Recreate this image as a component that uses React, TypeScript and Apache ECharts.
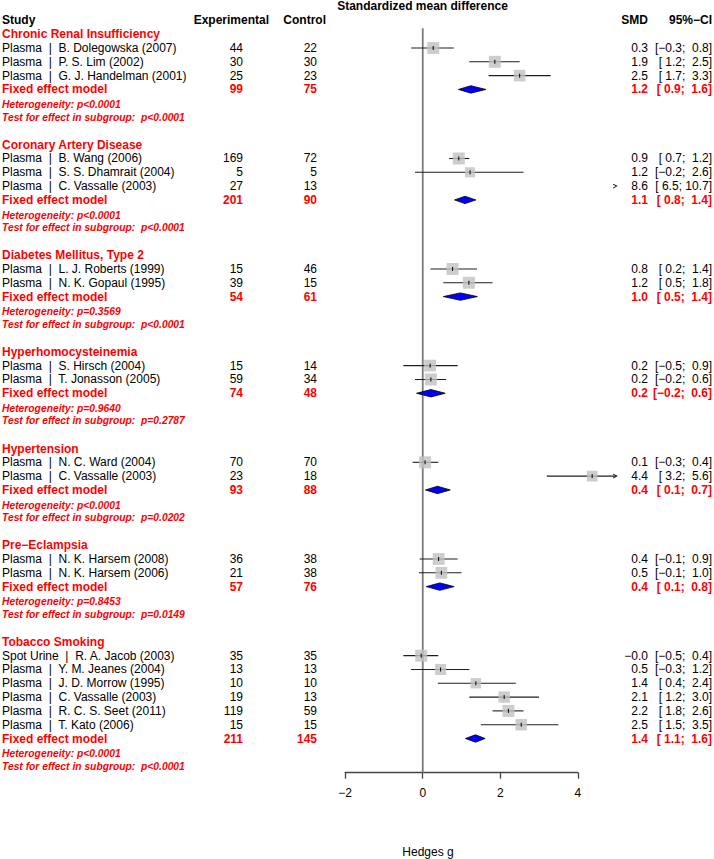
import React, { useEffect, useRef } from "react";
import * as echarts from "echarts";

// ---------------- data ----------------
const groupNames = [
  "Chronic Renal Insufficiency",
  "Coronary Artery Disease",
  "Diabetes Mellitus, Type 2",
  "Hyperhomocysteinemia",
  "Hypertension",
  "Pre\u2212Eclampsia",
  "Tobacco Smoking",
];
const studyGroup = [0, 0, 0, 1, 1, 1, 2, 2, 3, 3, 4, 4, 5, 5, 6, 6, 6, 6, 6, 6];
const studyLabels = [
  "Plasma  |  B. Dolegowska (2007)",
  "Plasma  |  P. S. Lim (2002)",
  "Plasma  |  G. J. Handelman (2001)",
  "Plasma  |  B. Wang (2006)",
  "Plasma  |  S. S. Dhamrait (2004)",
  "Plasma  |  C. Vassalle (2003)",
  "Plasma  |  L. J. Roberts (1999)",
  "Plasma  |  N. K. Gopaul (1995)",
  "Plasma  |  S. Hirsch (2004)",
  "Plasma  |  T. Jonasson (2005)",
  "Plasma  |  N. C. Ward (2004)",
  "Plasma  |  C. Vassalle (2003)",
  "Plasma  |  N. K. Harsem (2008)",
  "Plasma  |  N. K. Harsem (2006)",
  "Spot Urine  |  R. A. Jacob (2003)",
  "Plasma  |  Y. M. Jeanes (2004)",
  "Plasma  |  J. D. Morrow (1995)",
  "Plasma  |  C. Vassalle (2003)",
  "Plasma  |  R. C. S. Seet (2011)",
  "Plasma  |  T. Kato (2006)",
];
const expN = [44, 30, 25, 169, 5, 27, 15, 39, 15, 59, 70, 23, 36, 21, 35, 13, 10, 19, 119, 15];
const ctrlN = [22, 30, 23, 72, 5, 13, 46, 15, 14, 34, 70, 18, 38, 38, 35, 13, 10, 13, 59, 15];
const smd = [0.27, 1.86, 2.5, 0.93, 1.22, 8.6, 0.77, 1.19, 0.19, 0.21, 0.06, 4.37, 0.41, 0.48, -0.04, 0.46, 1.37, 2.1, 2.21, 2.54];
const ciLow = [-0.3, 1.2, 1.7, 0.68, -0.2, 6.5, 0.2, 0.53, -0.5, -0.2, -0.26, 3.2, -0.08, -0.1, -0.5, -0.3, 0.39, 1.2, 1.8, 1.5];
const ciHigh = [0.8, 2.5, 3.3, 1.2, 2.6, 10.7, 1.4, 1.8, 0.9, 0.6, 0.4, 5.6, 0.9, 1.0, 0.4, 1.2, 2.4, 3.0, 2.6, 3.5];
const studyWeight = [1, 1, 0.8, 1, 0, 0.5, 1, 1, 0.9, 1, 1, 0.4, 0.9, 0.9, 1, 0.5, 0.2, 0.7, 1, 0.7];

const pooledExp = [99, 201, 54, 74, 93, 57, 211];
const pooledCtrl = [75, 90, 61, 48, 88, 76, 145];
const pooledSmd = [1.24, 1.09, 0.97, 0.21, 0.38, 0.44, 1.36];
const pooledLow = [0.92, 0.82, 0.53, -0.16, 0.07, 0.09, 1.1];
const pooledHigh = [1.63, 1.37, 1.41, 0.58, 0.71, 0.81, 1.61];
const heterogeneityP = ["p<0.0001", "p<0.0001", "p=0.3569", "p=0.9640", "p<0.0001", "p=0.8453", "p<0.0001"];
const subgroupTestP = ["p<0.0001", "p<0.0001", "p<0.0001", "p=0.2787", "p=0.0202", "p=0.0149", "p<0.0001"];

const axisTicks = [-2, 0, 2, 4];

// ---------------- layout ----------------
const W = 714;
const H = 859;
const FONT = "'Liberation Sans', Arial, Helvetica, sans-serif";
const RED = "#ff0000";
const PLOT_MIN = -2;
const PLOT_MAX = 5;
const ROW_MIN = -1.5;
const ROW_MAX = 54;
const STEP = 13.81;
const ROW0_Y = 34.2;
const GRID_TOP = ROW0_Y + ROW_MIN * STEP;
const GRID_H = (ROW_MAX - ROW_MIN) * STEP;
const X0 = 345.2;
const UNIT = 38.77;
const AXIS_Y = 772.7;

const COL_LABEL = 2;
const COL_EXP = 243;
const COL_CTRL = 317;
const COL_SMD = 648;
const COL_CI = 712;

const fmt = (v: number) => v.toFixed(1).replace("-", "\u2212");
const pad = (s: string) => (s.length < 4 ? " ".repeat(4 - s.length) + s : s);
const ciText = (lo: number, hi: number) => `[${pad(fmt(lo))}; ${pad(fmt(hi))}]`;

// rows
const studyRow: number[] = [];
const groupRow: number[] = [];
const fixedRow: number[] = [];
(() => {
  let r = 0;
  groupNames.forEach((_, gi) => {
    groupRow.push(r);
    r++;
    studyGroup.forEach((g, si) => {
      if (g === gi) {
        studyRow[si] = r;
        r++;
      }
    });
    fixedRow.push(r);
    r += 4;
  });
})();

type TOpts = { color?: string; fontSize?: number; fontWeight?: string; fontStyle?: string };
type TItem = { name: string; value: number[] };
function textSeries(items: TItem[], align: string, o: TOpts = {}) {
  return {
    type: "custom",
    xAxisIndex: 1,
    yAxisIndex: 1,
    silent: true,
    z: 6,
    data: items.map((it) => it.value),
    renderItem: (p: any, api: any) => {
      const c = api.coord([api.value(0), api.value(1)]);
      return {
        type: "text",
        x: c[0],
        y: c[1],
        style: {
          text: items[p.dataIndex].name,
          textAlign: align,
          textVerticalAlign: "middle",
          fill: o.color ?? "#000",
          fontSize: o.fontSize ?? 12,
          fontWeight: o.fontWeight ?? "normal",
          fontStyle: o.fontStyle ?? "normal",
          fontFamily: FONT,
        },
      };
    },
  };
}

export default function App() {
  const ref = useRef<HTMLDivElement>(null);
  useEffect(() => {
    if (!ref.current) return;
    const chart = echarts.init(ref.current, null, { renderer: "svg" });

    const studyCI = studyLabels.map((_, i) => [ciLow[i], ciHigh[i], studyRow[i], smd[i]]);
    const pooledCI = groupNames.map((_, g) => [pooledLow[g], pooledHigh[g], fixedRow[g], pooledSmd[g]]);

    const series: any[] = [
      // zero reference line
      {
        type: "custom",
        xAxisIndex: 0,
        yAxisIndex: 0,
        silent: true,
        z: 1,
        data: [[0, -0.43, 53.48]],
        renderItem: (_p: any, api: any) => {
          const a = api.coord([api.value(0), api.value(1)]);
          const b = api.coord([api.value(0), api.value(2)]);
          return {
            type: "line",
            shape: { x1: a[0], y1: a[1], x2: b[0], y2: b[1] },
            style: { stroke: "#7a7a7a", lineWidth: 1.8 },
          };
        },
      },
      // CI lines
      {
        type: "custom",
        xAxisIndex: 0,
        yAxisIndex: 0,
        silent: true,
        z: 2,
        data: studyCI,
        renderItem: (_p: any, api: any) => {
          const lo = api.value(0);
          const hi = api.value(1);
          const r = api.value(2);
          const y = api.coord([0, r])[1];
          const xl = api.coord([Math.max(lo, PLOT_MIN), r])[0];
          const xr = api.coord([Math.min(hi, PLOT_MAX), r])[0];
          const children: any[] = [];
          const st = { stroke: "#1e1e1e", lineWidth: 1.1, fill: null };
          if (lo < PLOT_MAX) {
            children.push({ type: "line", shape: { x1: xl, y1: y, x2: xr, y2: y }, style: st });
          }
          if (hi > PLOT_MAX) {
            children.push({
              type: "polyline",
              shape: { points: [[xr - 3.5, y - 2], [xr, y], [xr - 3.5, y + 2]] },
              style: st,
            });
          }
          return { type: "group", children };
        },
      },
      // squares
      {
        type: "scatter",
        xAxisIndex: 0,
        yAxisIndex: 0,
        silent: true,
        z: 3,
        symbol: "rect",
        data: studyLabels.map((_, i) => [smd[i], studyRow[i], studyWeight[i]]),
        symbolSize: (v: number[]) => 10 + 2 * v[2],
        itemStyle: { color: "#c0c0c0" },
        emphasis: { disabled: true },
      },
      // estimate ticks
      {
        type: "custom",
        xAxisIndex: 0,
        yAxisIndex: 0,
        silent: true,
        z: 4,
        data: studyCI,
        renderItem: (_p: any, api: any) => {
          const est = api.value(3);
          if (est > PLOT_MAX || est < PLOT_MIN) return null;
          const c = api.coord([est, api.value(2)]);
          return {
            type: "line",
            shape: { x1: c[0], y1: c[1] - 2, x2: c[0], y2: c[1] + 2 },
            style: { stroke: "#000", lineWidth: 1 },
          };
        },
      },
      // diamonds
      {
        type: "custom",
        xAxisIndex: 0,
        yAxisIndex: 0,
        silent: true,
        z: 4,
        data: pooledCI,
        renderItem: (_p: any, api: any) => {
          const r = api.value(2);
          const l = api.coord([api.value(0), r]);
          const h = api.coord([api.value(1), r]);
          const m = api.coord([api.value(3), r]);
          const hh = 3.7;
          return {
            type: "polygon",
            shape: { points: [[l[0], l[1]], [m[0], m[1] - hh], [h[0], h[1]], [m[0], m[1] + hh]] },
            style: { fill: "#0000ff", stroke: "#000", lineWidth: 0.8 },
          };
        },
      },
      // header
      textSeries([{ name: "Study", value: [COL_LABEL, -1] }], "left", { fontWeight: "bold" }),
      textSeries([{ name: "Experimental", value: [269, -1] }, { name: "Control", value: [326, -1] }], "right", { fontWeight: "bold" }),
      textSeries([{ name: "SMD", value: [COL_SMD, -1] }, { name: "95%\u2212CI", value: [COL_CI, -1] }], "right", { fontWeight: "bold" }),
      // group headers
      textSeries(groupNames.map((g, i) => ({ name: g, value: [COL_LABEL, groupRow[i]] })), "left", { fontWeight: "bold", color: RED }),
      textSeries(groupNames.map((_, i) => ({ name: "Fixed effect model", value: [COL_LABEL, fixedRow[i]] })), "left", { fontWeight: "bold", color: RED }),
      textSeries(
        groupNames.map((_, i) => ({ name: "Heterogeneity: " + heterogeneityP[i], value: [COL_LABEL, fixedRow[i] + 1.1] })),
        "left",
        { fontWeight: "bold", fontStyle: "italic", color: RED, fontSize: 10.3 }
      ),
      textSeries(
        groupNames.map((_, i) => ({ name: "Test for effect in subgroup:  " + subgroupTestP[i], value: [COL_LABEL, fixedRow[i] + 2] })),
        "left",
        { fontWeight: "bold", fontStyle: "italic", color: RED, fontSize: 10.3 }
      ),
      // studies
      textSeries(studyLabels.map((t, i) => ({ name: t, value: [COL_LABEL, studyRow[i]] })), "left"),
      textSeries(expN.map((n, i) => ({ name: String(n), value: [COL_EXP, studyRow[i]] })), "right"),
      textSeries(ctrlN.map((n, i) => ({ name: String(n), value: [COL_CTRL, studyRow[i]] })), "right"),
      textSeries(smd.map((v, i) => ({ name: fmt(v), value: [COL_SMD, studyRow[i]] })), "right"),
      textSeries(smd.map((_, i) => ({ name: ciText(ciLow[i], ciHigh[i]), value: [COL_CI, studyRow[i]] })), "right"),
      // pooled
      textSeries(pooledExp.map((n, i) => ({ name: String(n), value: [COL_EXP, fixedRow[i]] })), "right", { fontWeight: "bold", color: RED }),
      textSeries(pooledCtrl.map((n, i) => ({ name: String(n), value: [COL_CTRL, fixedRow[i]] })), "right", { fontWeight: "bold", color: RED }),
      textSeries(pooledSmd.map((v, i) => ({ name: fmt(v), value: [COL_SMD, fixedRow[i]] })), "right", { fontWeight: "bold", color: RED }),
      textSeries(pooledSmd.map((_, i) => ({ name: ciText(pooledLow[i], pooledHigh[i]), value: [COL_CI, fixedRow[i]] })), "right", { fontWeight: "bold", color: RED }),
    ];

    const hiddenY = { type: "value", min: ROW_MIN, max: ROW_MAX, inverse: true, show: false };
    const option: any = {
      animation: false,
      backgroundColor: "#ffffff",
      grid: [
        { left: X0, top: GRID_TOP, width: (PLOT_MAX - PLOT_MIN) * UNIT, height: GRID_H, outerBoundsMode: "none" },
        { left: 0, top: GRID_TOP, width: W, height: GRID_H, outerBoundsMode: "none" },
        { left: X0, top: AXIS_Y - 12, width: 6 * UNIT, height: 12, outerBoundsMode: "none" },
      ],
      xAxis: [
        { gridIndex: 0, type: "value", min: PLOT_MIN, max: PLOT_MAX, show: false },
        { gridIndex: 1, type: "value", min: 0, max: W, show: false },
        {
          gridIndex: 2,
          type: "value",
          min: axisTicks[0],
          max: axisTicks[axisTicks.length - 1],
          interval: 2,
          position: "bottom",
          axisLine: { show: true, onZero: false, lineStyle: { color: "#444", width: 1.3 } },
          axisTick: { show: true, length: 6, lineStyle: { color: "#444", width: 1.3 } },
          splitLine: { show: false },
          axisLabel: {
            show: true,
            margin: 14,
            color: "#000",
            fontSize: 12,
            fontFamily: FONT,
            formatter: (v: number) => String(v).replace("-", "\u2212"),
          },
        },
      ],
      yAxis: [
        { ...hiddenY, gridIndex: 0 },
        { ...hiddenY, gridIndex: 1 },
        { gridIndex: 2, type: "value", min: 0, max: 1, show: false },
      ],
      graphic: [
        {
          type: "text",
          x: 422.5,
          y: 6,
          style: {
            text: "Standardized mean difference",
            textAlign: "center",
            textVerticalAlign: "middle",
            fontSize: 12,
            fontWeight: "bold",
            fontFamily: FONT,
            fill: "#000",
          },
        },
        {
          type: "text",
          x: 428,
          y: 852,
          style: {
            text: "Hedges g",
            textAlign: "center",
            textVerticalAlign: "middle",
            fontSize: 12,
            fontFamily: FONT,
            fill: "#000",
          },
        },
      ],
      series,
    };
    chart.setOption(option);
    return () => chart.dispose();
  }, []);
  return <div ref={ref} style={{ position: "absolute", left: 0, top: 0, width: W, height: H }} />;
}
